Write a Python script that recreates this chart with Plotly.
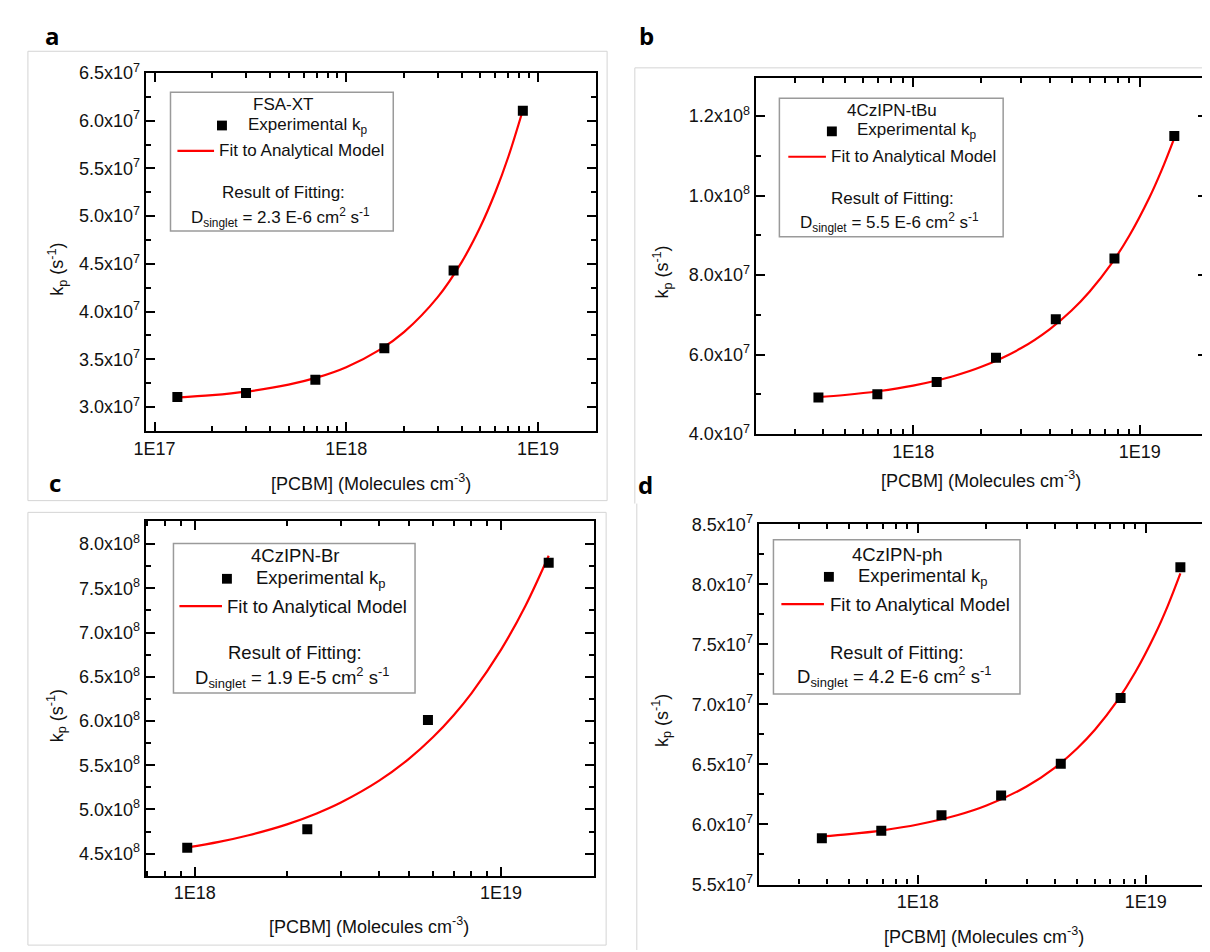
import plotly.graph_objects as go

# ---------------- data ----------------
# Panel a: FSA-XT
a_conc = [1.315e17, 3.0e17, 6.9e17, 1.58e18, 3.63e18, 8.34e18]
a_kp = [3.105e7, 3.146e7, 3.286e7, 3.615e7, 4.43e7, 6.105e7]
a_fit_conc = [1.3e17, 2e17, 3e17, 5e17, 7e17, 1e18, 1.5e18, 2e18, 3e18, 4e18, 5e18, 6e18, 7e18, 8.3e18]
a_fit_kp = [3.098e7, 3.123e7, 3.160e7, 3.234e7, 3.307e7, 3.417e7, 3.601e7, 3.784e7, 4.151e7,
            4.518e7, 4.885e7, 5.252e7, 5.619e7, 6.096e7]

# Panel b: 4CzIPN-tBu
b_conc = [3.82e17, 6.95e17, 1.27e18, 2.32e18, 4.26e18, 7.73e18, 1.42e19]
b_kp = [4.925e7, 5.006e7, 5.31e7, 5.92e7, 6.89e7, 8.42e7, 1.15e8]
b_fit_conc = [3.8e17, 5e17, 7e17, 1e18, 1.5e18, 2e18, 3e18, 4e18, 5e18, 6e18, 7.5e18, 9e18, 1.1e19, 1.25e19, 1.42e19]
b_fit_kp = [4.93e7, 4.986e7, 5.08e7, 5.222e7, 5.458e7, 5.694e7, 6.166e7, 6.638e7, 7.11e7, 7.582e7,
            8.29e7, 8.998e7, 9.942e7, 1.065e8, 1.145e8]

# Panel c: 4CzIPN-Br
c_conc = [9.45e17, 2.33e18, 5.77e18, 1.43e19]
c_kp = [4.566e8, 4.777e8, 6.011e8, 7.79e8]
c_fit_conc = [9.45e17, 1.2e18, 1.5e18, 2e18, 2.5e18, 3e18, 4e18, 5e18, 6e18, 7e18, 8e18, 1e19, 1.2e19, 1.43e19]
c_fit_kp = [4.57e8, 4.633e8, 4.708e8, 4.831e8, 4.955e8, 5.078e8, 5.325e8, 5.572e8, 5.819e8, 6.066e8,
            6.313e8, 6.807e8, 7.301e8, 7.869e8]

# Panel d: 4CzIPN-ph
d_conc = [3.79e17, 6.91e17, 1.27e18, 2.32e18, 4.24e18, 7.76e18, 1.42e19]
d_kp = [5.885e7, 5.947e7, 6.077e7, 6.24e7, 6.506e7, 7.053e7, 8.142e7]
d_fit_conc = [3.8e17, 5e17, 7e17, 1e18, 1.5e18, 2e18, 3e18, 4e18, 5e18, 6e18, 7.5e18, 9e18, 1.1e19, 1.25e19, 1.42e19]
d_fit_kp = [5.9e7, 5.919e7, 5.951e7, 5.999e7, 6.078e7, 6.157e7, 6.316e7, 6.474e7, 6.633e7, 6.791e7,
            7.029e7, 7.267e7, 7.584e7, 7.821e7, 8.091e7]

# tick labels
x_tickvals = [1e17, 1e18, 1e19]
x_ticktext = ["1E17", "1E18", "1E19"]
a_yticks = [3.0e7, 3.5e7, 4.0e7, 4.5e7, 5.0e7, 5.5e7, 6.0e7, 6.5e7]
a_ytext = ["3.0x10<sup>7</sup>", "3.5x10<sup>7</sup>", "4.0x10<sup>7</sup>", "4.5x10<sup>7</sup>",
           "5.0x10<sup>7</sup>", "5.5x10<sup>7</sup>", "6.0x10<sup>7</sup>", "6.5x10<sup>7</sup>"]
b_yticks = [4.0e7, 6.0e7, 8.0e7, 1.0e8, 1.2e8]
b_ytext = ["4.0x10<sup>7</sup>", "6.0x10<sup>7</sup>", "8.0x10<sup>7</sup>", "1.0x10<sup>8</sup>",
           "1.2x10<sup>8</sup>"]
c_yticks = [4.5e8, 5.0e8, 5.5e8, 6.0e8, 6.5e8, 7.0e8, 7.5e8, 8.0e8]
c_ytext = ["4.5x10<sup>8</sup>", "5.0x10<sup>8</sup>", "5.5x10<sup>8</sup>", "6.0x10<sup>8</sup>",
           "6.5x10<sup>8</sup>", "7.0x10<sup>8</sup>", "7.5x10<sup>8</sup>", "8.0x10<sup>8</sup>"]
d_yticks = [5.5e7, 6.0e7, 6.5e7, 7.0e7, 7.5e7, 8.0e7, 8.5e7]
d_ytext = ["5.5x10<sup>7</sup>", "6.0x10<sup>7</sup>", "6.5x10<sup>7</sup>", "7.0x10<sup>7</sup>",
           "7.5x10<sup>7</sup>", "8.0x10<sup>7</sup>", "8.5x10<sup>7</sup>"]

names = ["FSA-XT", "4CzIPN-tBu", "4CzIPN-Br", "4CzIPN-ph"]
d_values = ["2.3 E-6", "5.5 E-6", "1.9 E-5", "4.2 E-6"]
letters = ["a", "b", "c", "d"]

# ---------------- layout ----------------
W, H = 1210, 952
FONT = "Liberation Sans, Arial, sans-serif"
TICK_FS = 18
TITLE_FS = 18


def px(x):
    return x / W


def py(y):
    return 1 - y / H


minor_log = [float(k) * 10.0 ** e for e in range(16, 20) for k in range(2, 10)]

panels = [
    dict(conc=a_conc, kp=a_kp, fc=a_fit_conc, fk=a_fit_kp, yt=a_yticks, ytt=a_ytext,
         xdom=(127, 582), ydom=(54, 421), xr=(16.954, 19.304), yr=(2.745e7, 6.502e7), ydt=0.25e7,
         box=(152, 74, 377, 216), title_c=266, title_y=87, mk=(204, 108), exp_x=228,
         ln=(159, 196, 134), fit_x=199, res_y=177, dl_y=202, lfs=17,
         ytitle=(37, 255), xtitle=(355, 473), letter=(33, 16)),
    dict(conc=b_conc, kp=b_kp, fc=b_fit_conc, fk=b_fit_kp, yt=b_yticks, ytt=b_ytext,
         xdom=(743, 1199), ydom=(59, 424), xr=(17.305, 19.297), yr=(3.999e7, 1.297e8), ydt=1e7,
         box=(767, 80, 993, 222), title_c=881, title_y=93, mk=(820, 114), exp_x=843,
         ln=(776, 814, 140), fit_x=817, res_y=183, dl_y=207, lfs=17,
         ytitle=(648, 258), xtitle=(971, 470), letter=(633, 16)),
    dict(conc=c_conc, kp=c_kp, fc=c_fit_conc, fk=c_fit_kp, yt=c_yticks, ytt=c_ytext,
         xdom=(127, 580), ydom=(513, 876), xr=(17.840, 19.304), yr=(4.25e8, 8.26e8), ydt=0.25e8,
         box=(155, 536, 399, 689), title_c=278, title_y=548, mk=(209, 572), exp_x=236,
         ln=(161, 204, 600), fit_x=207, res_y=647, dl_y=673, lfs=18.5,
         ytitle=(37, 712), xtitle=(353, 927), letter=(35, 473)),
    dict(conc=d_conc, kp=d_kp, fc=d_fit_conc, fk=d_fit_kp, yt=d_yticks, ytt=d_ytext,
         xdom=(746, 1203), ydom=(516, 885), xr=(17.301, 19.287), yr=(5.499e7, 8.502e7), ydt=0.25e7,
         box=(761, 532, 1010, 690), title_c=886, title_y=547, mk=(817, 570), exp_x=844,
         ln=(769, 812, 598), fit_x=816, res_y=647, dl_y=672, lfs=18.5,
         ytitle=(648, 717), xtitle=(974, 937), letter=(632, 475)),
]

fig = go.Figure()
shapes = []
annotations = []

# panel frames (light grey borders of the composite figure)
frame_col = "#d4d4d4"
shapes.append(dict(type="rect", xref="paper", yref="paper", x0=px(8), x1=px(593), y0=py(492), y1=py(32),
                   line=dict(color=frame_col, width=1)))
shapes.append(dict(type="rect", xref="paper", yref="paper", x0=px(8), x1=px(592), y0=py(947), y1=py(504),
                   line=dict(color=frame_col, width=1)))
shapes.append(dict(type="line", xref="paper", yref="paper", x0=px(621), x1=px(1210), y0=py(49), y1=py(49),
                   line=dict(color=frame_col, width=1)))
shapes.append(dict(type="line", xref="paper", yref="paper", x0=px(621), x1=px(621), y0=py(49), y1=py(495),
                   line=dict(color=frame_col, width=1)))
shapes.append(dict(type="line", xref="paper", yref="paper", x0=px(623), x1=px(623), y0=py(495), y1=py(952),
                   line=dict(color=frame_col, width=1)))

for i, p in enumerate(panels):
    n = "" if i == 0 else str(i + 1)
    xa, ya = "x" + n, "y" + n
    fig.add_trace(go.Scatter(x=p["fc"], y=p["fk"], mode="lines", line=dict(color="#ff0000", width=2.2,
                             shape="spline"), xaxis=xa, yaxis=ya, showlegend=False,
                             name="Fit to Analytical Model"))
    fig.add_trace(go.Scatter(x=p["conc"], y=p["kp"], mode="markers",
                             marker=dict(symbol="square", size=10, color="black"),
                             xaxis=xa, yaxis=ya, showlegend=False, name="Experimental k_p"))

    common = dict(showline=True, linecolor="black", linewidth=2.2, mirror="allticks", ticks="inside",
                  tickcolor="black", tickwidth=1.5, ticklen=9, showgrid=False, zeroline=False,
                  tickfont=dict(family=FONT, size=TICK_FS, color="#111"))
    xax = dict(common, type="log", domain=[px(p["xdom"][0]), px(p["xdom"][1])], range=list(p["xr"]),
               tickmode="array", tickvals=x_tickvals, ticktext=x_ticktext, anchor=ya,
               minor=dict(tickmode="array", tickvals=minor_log, ticks="inside", ticklen=5,
                          tickwidth=1.5, tickcolor="black", showgrid=False))
    yax = dict(common, domain=[py(p["ydom"][1]), py(p["ydom"][0])], range=list(p["yr"]),
               tickmode="array", tickvals=p["yt"], ticktext=p["ytt"], anchor=xa,
               minor=dict(tick0=0, dtick=p["ydt"], ticks="inside", ticklen=5, tickwidth=1.5,
                          tickcolor="black", showgrid=False))
    fig.layout["xaxis" + n] = xax
    fig.layout["yaxis" + n] = yax

    # legend box
    bx0, by0, bx1, by1 = p["box"]
    shapes.append(dict(type="rect", xref="paper", yref="paper", x0=px(bx0), x1=px(bx1), y0=py(by1),
                       y1=py(by0), line=dict(color="#9a9a9a", width=1.5), fillcolor="white", layer="above"))
    mx, my = p["mk"]
    shapes.append(dict(type="rect", xref="paper", yref="paper", x0=px(mx - 5), x1=px(mx + 5),
                       y0=py(my + 5), y1=py(my - 5), line=dict(width=0), fillcolor="black", layer="above"))
    lx0, lx1, ly = p["ln"]
    shapes.append(dict(type="line", xref="paper", yref="paper", x0=px(lx0), x1=px(lx1), y0=py(ly),
                       y1=py(ly), line=dict(color="#ff0000", width=2.2), layer="above"))
    lf = dict(family=FONT, size=p["lfs"], color="#111")
    annotations += [
        dict(x=px(p["title_c"]), y=py(p["title_y"]), text=names[i], showarrow=False, xanchor="center",
             yanchor="middle", font=lf, xref="paper", yref="paper"),
        dict(x=px(p["exp_x"]), y=py(my), text="Experimental k<sub>p</sub>", showarrow=False,
             xanchor="left", yanchor="middle", font=lf, xref="paper", yref="paper"),
        dict(x=px(p["fit_x"]), y=py(ly), text="Fit to Analytical Model", showarrow=False,
             xanchor="left", yanchor="middle", font=lf, xref="paper", yref="paper"),
        dict(x=px(p["title_c"]), y=py(p["res_y"]), text="Result of Fitting:", showarrow=False,
             xanchor="center", yanchor="middle", font=lf, xref="paper", yref="paper"),
        dict(x=px(p["title_c"] - 3), y=py(p["dl_y"]),
             text="D<sub>singlet</sub> = " + d_values[i] + " cm<sup>2</sup> s<sup>-1</sup>",
             showarrow=False, xanchor="center", yanchor="middle", font=lf, xref="paper", yref="paper"),
        # axis titles
        dict(x=px(p["ytitle"][0]), y=py(p["ytitle"][1]), text="k<sub>p</sub> (s<sup>-1</sup>)",
             textangle=-90, showarrow=False, xanchor="center", yanchor="middle",
             font=dict(family=FONT, size=TITLE_FS, color="#111"), xref="paper", yref="paper"),
        dict(x=px(p["xtitle"][0]), y=py(p["xtitle"][1]), text="[PCBM] (Molecules cm<sup>-3</sup>)",
             showarrow=False, xanchor="center", yanchor="middle",
             font=dict(family=FONT, size=TITLE_FS, color="#111"), xref="paper", yref="paper"),
        # panel letter
        dict(x=px(p["letter"][0]), y=py(p["letter"][1]), text="<b>" + letters[i] + "</b>",
             showarrow=False, xanchor="center", yanchor="middle",
             font=dict(family="Open Sans, sans-serif", size=24, color="black"), xref="paper", yref="paper"),
    ]

fig.update_layout(width=W, height=H, margin=dict(l=0, r=0, t=0, b=0), paper_bgcolor="white",
                  plot_bgcolor="white", shapes=shapes, annotations=annotations, showlegend=False)
fig.write_html("out.html")
